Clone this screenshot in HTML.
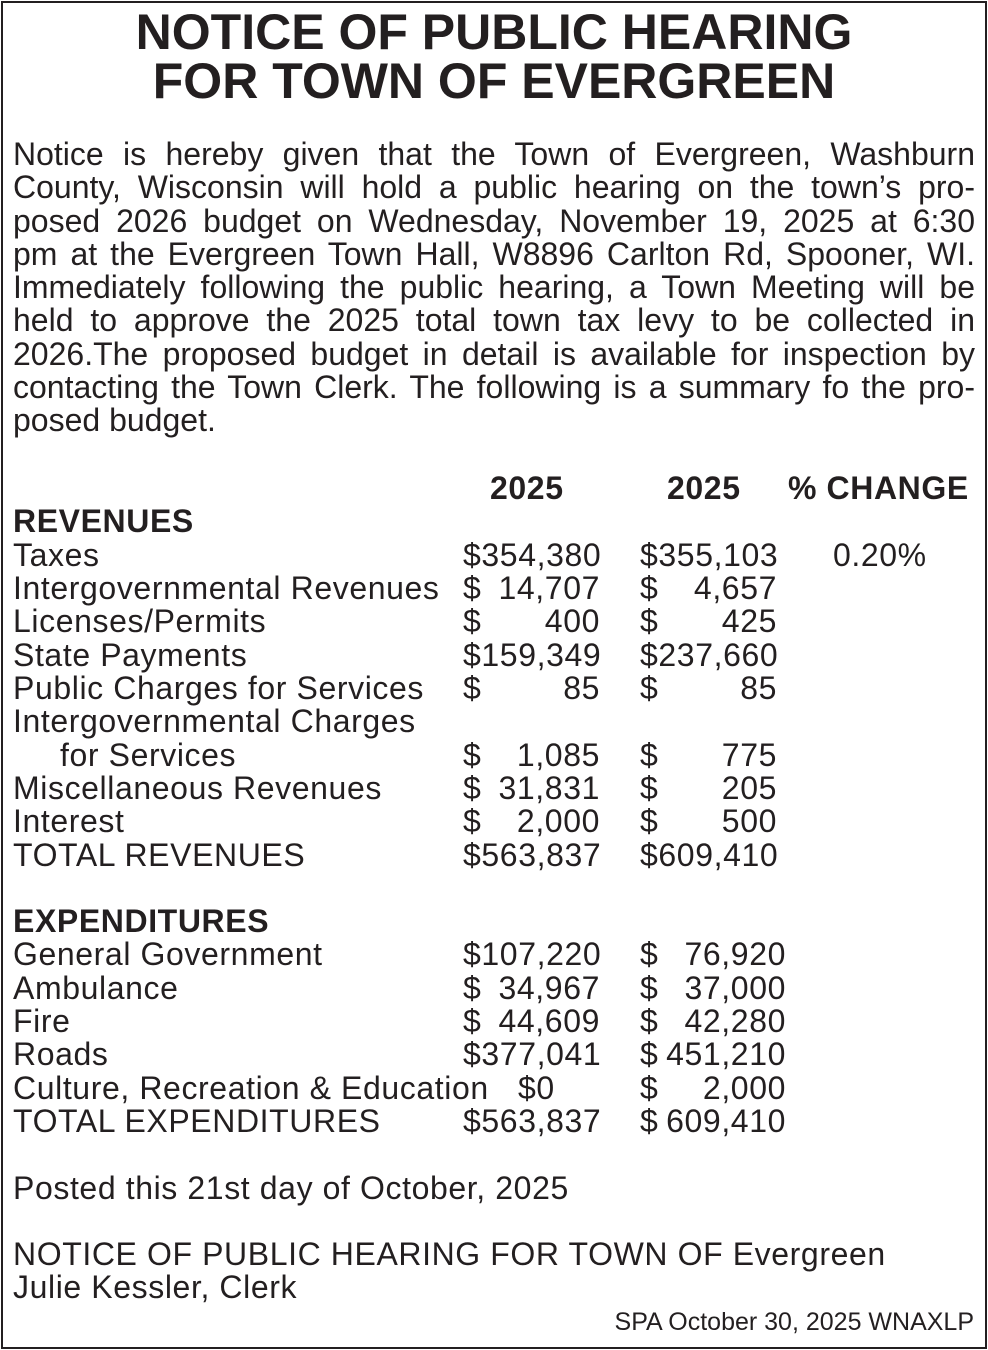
<!DOCTYPE html>
<html><head><meta charset="utf-8"><style>
html,body{margin:0;padding:0;background:#fff}
body{width:988px;height:1350px;position:relative;overflow:hidden;font-family:"Liberation Sans",Arial,sans-serif;color:#231f20}
.frame{position:absolute;left:1px;top:1px;border:2px solid #231f20;box-sizing:border-box;width:986px;height:1348px}
.title{position:absolute;left:0;width:988px;top:8px;text-align:center;font-weight:bold;font-size:50px;line-height:49px}
.para{position:absolute;left:13px;width:962px;top:138px;font-size:32px;line-height:33.3px}
.para div{text-align:justify;text-align-last:justify;white-space:nowrap;height:33.3px}
.para div.last{text-align-last:left}
.r{position:absolute;left:0;width:988px;height:34px;font-size:32px;line-height:34px;white-space:nowrap;letter-spacing:0.6px}
.r span{position:absolute}
.l{left:13px}
.b{font-weight:bold}
.d1{left:463px}.n1{right:388px}
.d2{left:640px}.n2{right:211px}.n3{right:202px}
</style></head><body>
<div class="frame"></div>
<div class="title">NOTICE OF PUBLIC HEARING<br>FOR TOWN OF EVERGREEN</div>
<div class="para">
<div>Notice is hereby given that the Town of Evergreen, Washburn</div>
<div>County, Wisconsin will hold a public hearing on the town’s pro-</div>
<div>posed 2026 budget on Wednesday, November 19, 2025 at 6:30</div>
<div>pm at the Evergreen Town Hall, W8896 Carlton Rd, Spooner, WI.</div>
<div>Immediately following the public hearing, a Town Meeting will be</div>
<div>held to approve the 2025 total town tax levy to be collected in</div>
<div>2026.The proposed budget in detail is available for inspection by</div>
<div>contacting the Town Clerk. The following is a summary fo the pro-</div>
<div class="last">posed budget.</div>
</div>

<div class="r b" style="top:471px"><span style="left:490px">2025</span><span style="left:667px">2025</span><span style="left:788px">% CHANGE</span></div>
<div class="r b" style="top:504px"><span class="l">REVENUES</span></div>
<div class="r" style="top:538px"><span class="l">Taxes</span><span style="left:463px">$354,380</span><span style="left:640px">$355,103</span><span style="left:833px">0.20%</span></div>
<div class="r" style="top:571px"><span class="l">Intergovernmental Revenues</span><span class="d1">$</span><span class="n1">14,707</span><span class="d2">$</span><span class="n2">4,657</span></div>
<div class="r" style="top:604px"><span class="l">Licenses/Permits</span><span class="d1">$</span><span class="n1">400</span><span class="d2">$</span><span class="n2">425</span></div>
<div class="r" style="top:638px"><span class="l">State Payments</span><span style="left:463px">$159,349</span><span style="left:640px">$237,660</span></div>
<div class="r" style="top:671px"><span class="l">Public Charges for Services</span><span class="d1">$</span><span class="n1">85</span><span class="d2">$</span><span class="n2">85</span></div>
<div class="r" style="top:704px"><span class="l">Intergovernmental Charges</span></div>
<div class="r" style="top:738px"><span class="l" style="left:60px">for Services</span><span class="d1">$</span><span class="n1">1,085</span><span class="d2">$</span><span class="n2">775</span></div>
<div class="r" style="top:771px"><span class="l">Miscellaneous Revenues</span><span class="d1">$</span><span class="n1">31,831</span><span class="d2">$</span><span class="n2">205</span></div>
<div class="r" style="top:804px"><span class="l">Interest</span><span class="d1">$</span><span class="n1">2,000</span><span class="d2">$</span><span class="n2">500</span></div>
<div class="r" style="top:838px"><span class="l">TOTAL REVENUES</span><span style="left:463px">$563,837</span><span style="left:640px">$609,410</span></div>

<div class="r b" style="top:904px"><span class="l">EXPENDITURES</span></div>
<div class="r" style="top:937px"><span class="l">General Government</span><span style="left:463px">$107,220</span><span class="d2">$</span><span class="n3">76,920</span></div>
<div class="r" style="top:971px"><span class="l">Ambulance</span><span class="d1">$</span><span class="n1">34,967</span><span class="d2">$</span><span class="n3">37,000</span></div>
<div class="r" style="top:1004px"><span class="l">Fire</span><span class="d1">$</span><span class="n1">44,609</span><span class="d2">$</span><span class="n3">42,280</span></div>
<div class="r" style="top:1037px"><span class="l">Roads</span><span style="left:463px">$377,041</span><span class="d2">$</span><span class="n3">451,210</span></div>
<div class="r" style="top:1071px"><span class="l">Culture, Recreation &amp; Education</span><span style="left:518px">$0</span><span class="d2">$</span><span class="n3">2,000</span></div>
<div class="r" style="top:1104px"><span class="l">TOTAL EXPENDITURES</span><span style="left:463px">$563,837</span><span class="d2">$</span><span class="n3">609,410</span></div>

<div class="r" style="top:1171px"><span class="l">Posted this 21st day of October, 2025</span></div>
<div class="r" style="top:1237px"><span class="l">NOTICE OF PUBLIC HEARING FOR TOWN OF Evergreen</span></div>
<div class="r" style="top:1270px"><span class="l">Julie Kessler, Clerk</span></div>
<div class="r" style="top:1310px;font-size:25px;line-height:25px;letter-spacing:0"><span style="right:14px">SPA October 30, 2025 WNAXLP</span></div>
</body></html>
